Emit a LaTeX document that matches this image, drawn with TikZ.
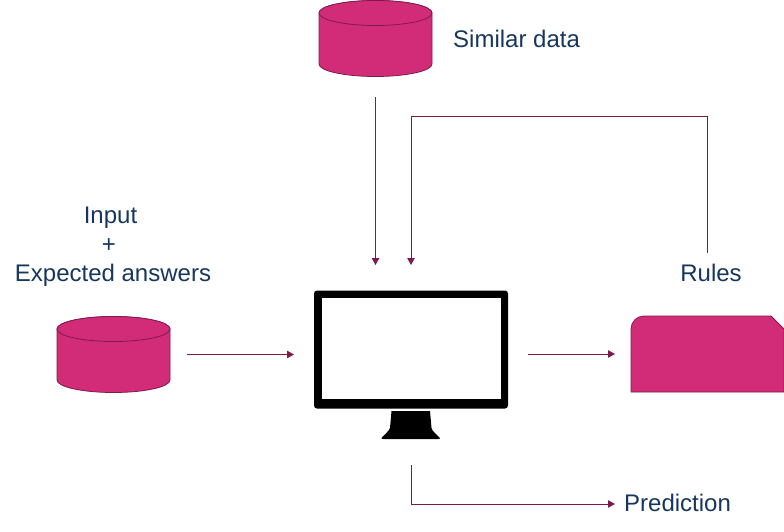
\documentclass[tikz,border=0pt]{standalone}
\usepackage{fontspec}
\setmainfont{Liberation Sans}
\usetikzlibrary{arrows.meta,calc}
\definecolor{pinkfill}{HTML}{D22C78}
\definecolor{pinkline}{HTML}{7F1A4E}
\definecolor{navytext}{HTML}{17365D}
\tikzset{
  x=1pt,y=-1pt,
  lbl/.style={text=navytext,font=\fontsize{24}{28}\selectfont,inner sep=0pt,align=center},
  conn/.style={draw=pinkline,line width=0.9pt,-{Triangle[length=7pt,width=7.5pt]}},
  plain/.style={draw=none,fill=none,inner sep=0pt,outer sep=0pt},
  solid pink/.style={fill=pinkfill,draw=pinkline,line width=0.8pt},
  cyl/.pic={
    \path[solid pink] (-56.5,-25.5) -- (-56.5,25.5) arc[start angle=180,end angle=360,x radius=56.5,y radius=-12.5]
       -- (56.5,-25.5) arc[start angle=0,end angle=180,x radius=56.5,y radius=-12.5];
    \path[solid pink] (0,-25.5) ellipse[x radius=56.5,y radius=12.5];
  }
}
\begin{document}
\begin{tikzpicture}
\useasboundingbox (0,0) rectangle (784,532);
% nodes that carry the shapes
\node[plain,minimum width=113pt,minimum height=77pt] (simdata) at (375.5,38.5) {};
\node[plain,minimum width=113pt,minimum height=77pt] (inputdata) at (113.5,354.5) {};
\node[plain,minimum width=194pt,minimum height=118pt] (monitor) at (411,349.5) {};
\node[plain,minimum width=153pt,minimum height=76pt] (rulesdoc) at (707.5,354) {};
% cylinders
\pic at (simdata.center) {cyl};
\pic at (inputdata.center) {cyl};
% document
\path[solid pink] (631,392) -- (631,329) arc[start angle=180,end angle=90,x radius=13,y radius=-13]
   -- (771,316) -- (784,329) -- (784,392) -- cycle;
% monitor
\fill[black,rounded corners=3pt] (314,290.5) rectangle (508,408.5);
\fill[white] (321.5,298) rectangle (501,399);
\fill[black] (391.5,411) -- (430,411) -- (431.5,428)
   .. controls (432,431) and (436,434) .. (440,438)
   .. controls (440,439) and (439,439) .. (438,439)
   -- (384,439) .. controls (382,439) and (381,439) .. (381.5,438)
   .. controls (385,434) and (389,431) .. (390,428) -- cycle;
% labels
\node[lbl,anchor=base west] (simlabel) at (453,47.5) {Similar data};
\node[lbl,anchor=base] (inlabel) at (110.5,223) {Input};
\node[lbl,anchor=base] (pluslabel) at (109,252) {+};
\node[lbl,anchor=base] (explabel) at (113,281) {Expected answers};
\node[lbl,anchor=base] (ruleslabel) at (711,281) {Rules};
\node[lbl,anchor=base west] (predlabel) at (624,511) {Prediction};
% connector bends
\coordinate (bend1) at (411,116.5);
\coordinate (bend2) at (707,116.5);
\coordinate (bend3) at (411,504);
% connectors
\draw[conn] ([yshift=-20pt]simdata.south) -- ([xshift=-35.5pt,yshift=25.5pt]monitor.north);
\draw[conn] ([yshift=10.5pt]bend2 |- ruleslabel.north) -- (bend2) -- (bend1) -- ([yshift=25.5pt]monitor.north);
\draw[conn] ([xshift=17pt]inputdata.east) -- ([xshift=-20pt]monitor.west |- inputdata.east);
\draw[conn] ([xshift=20pt]monitor.east |- rulesdoc.west) -- ([xshift=-16pt]rulesdoc.west);
\draw[conn] ([yshift=-56.5pt]monitor.south) -- (bend3) -- ([xshift=-9pt]predlabel.west |- bend3);
\end{tikzpicture}
\end{document}
